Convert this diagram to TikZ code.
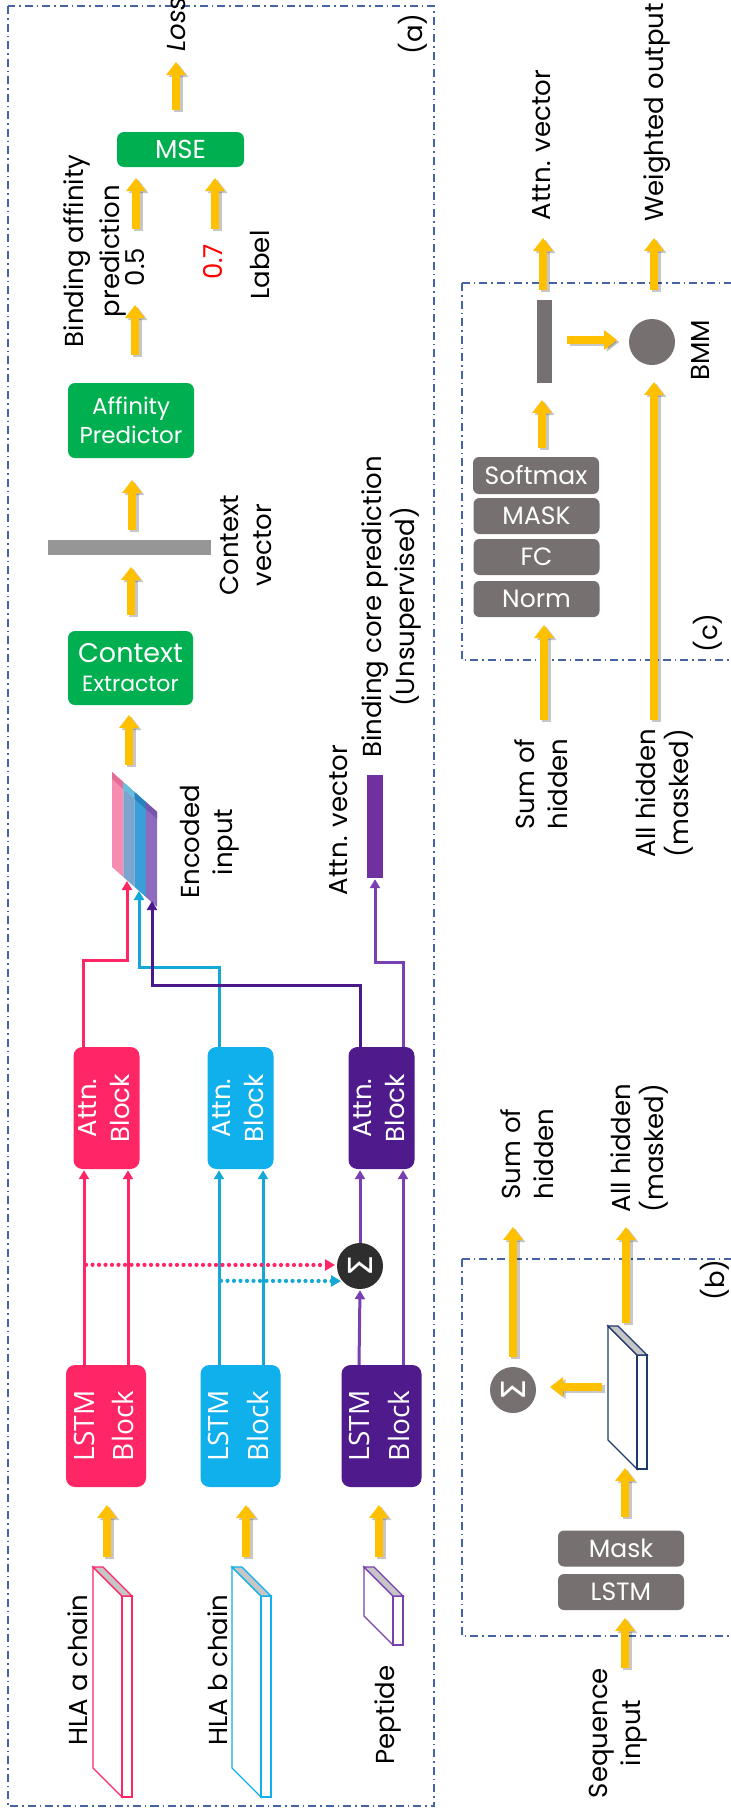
\documentclass[tikz,border=0pt]{standalone}
\usepackage{fontspec}
\usepackage{graphicx}
\setmainfont{Poppins}
\newfontfamily\opensans{Open Sans}
\newfontfamily\dejavu{DejaVu Sans}
\usetikzlibrary{arrows.meta,calc}
\definecolor{ay}{RGB}{255,192,0}
\definecolor{gboxc}{RGB}{0,176,80}
\definecolor{grayboxc}{RGB}{118,112,112}
\definecolor{pinkc}{RGB}{255,38,102}
\definecolor{cyanc}{RGB}{16,176,236}
\definecolor{cyanl}{RGB}{20,168,214}
\definecolor{purc}{RGB}{78,26,140}
\definecolor{purd}{RGB}{74,26,140}
\definecolor{purl}{RGB}{120,64,176}
\definecolor{framec}{RGB}{70,100,165}
\definecolor{barc}{RGB}{150,150,150}
\definecolor{navyc}{RGB}{31,56,110}
\definecolor{vecp}{RGB}{112,48,160}
\definecolor{encA}{RGB}{246,140,176}
\definecolor{encAt}{RGB}{226,110,150}
\definecolor{encB}{RGB}{125,164,204}
\definecolor{encBt}{RGB}{100,190,220}
\definecolor{encC}{RGB}{58,158,216}
\definecolor{encCt}{RGB}{40,130,190}
\definecolor{encD}{RGB}{142,107,191}
\definecolor{encDt}{RGB}{118,86,170}
\newcommand\lstmtxt{\rotatebox{90}{\opensans\fontsize{28}{40}\selectfont\begin{tabular}{@{}c@{}}LSTM\\Block\end{tabular}}}
\newcommand\attntxt{\rotatebox{90}{\fontsize{26}{33}\selectfont\begin{tabular}{@{}c@{}}Attn.\\Block\end{tabular}}}
\newcommand\sigtxt{\rotatebox{90}{\dejavu\fontsize{33}{33}\selectfont Σ}}
\newcommand\slabshape[4]{%
  \draw[#4, line width=1.3pt, fill=white] (#1,#2) -- ++(29,29) -- ++(0,#3) -- ++(-29,-29) -- cycle;
  \draw[#4, line width=1.3pt, fill=white] ($(#1,#2)+(29,29)$) rectangle ++(10,#3);
  \draw[#4, line width=1.3pt, fill=gray!45] (#1,#2) -- ++(10,0) -- ++(29,29) -- ++(-10,0) -- cycle;
}
\tikzset{
  lbl/.style={rotate=90, align=center, inner sep=0pt, font=\fontsize{26}{33}\selectfont},
  gbox/.style={fill=gboxc, rounded corners=7pt, text=white, inner sep=0pt, align=center},
  graybox/.style={fill=grayboxc, rounded corners=6pt, text=white, inner sep=0pt,
    font=\fontsize{25}{30}\selectfont, minimum width=126pt, minimum height=36pt},
  blk/.style={rounded corners=9pt, inner sep=0pt, minimum width=65pt, minimum height=122pt, text=white},
  sig/.style={circle, minimum size=46pt, inner sep=0pt, text=white},
  yarrow/.style={draw=ay, line width=8.5pt, -{Triangle[length=13pt,width=19pt]},
    preaction={draw=black, opacity=0.22, line width=8.5pt, -{Triangle[length=13pt,width=19pt]},
      transform canvas={shift={(2.5pt,-2pt)}}}},
  ln/.style={line width=3pt, -{Triangle[length=9pt,width=10pt]}, shorten >=1pt},
  dotl/.style={line width=4.2pt, dash pattern=on 0pt off 6.5pt, line cap=round,
    -{Triangle[length=10pt,width=11pt]}},
  frm/.style={draw=framec, line width=1.5pt, dash pattern=on 8pt off 4pt on 1.5pt off 4pt},
}
\begin{document}
\begin{tikzpicture}[x=1pt,y=-1pt]
\useasboundingbox (0,0) rectangle (731,1813);
\clip (0,0) rectangle (731,1813);
\fill[white] (0,0) rectangle (731,1813);

% frames
\draw[frm] (8,6) rectangle (434,1806);
\draw[frm] (462,283) rectangle (745,660);
\draw[frm] (462,1259) rectangle (745,1636);

% ---------------- panel (a)
\node[gbox, minimum width=127pt, minimum height=35pt, font=\fontsize{26}{30}\selectfont] (mse) at (180.5,149.5) {MSE};
\node[gbox, minimum width=126pt, minimum height=75pt, font=\fontsize{23}{29}\selectfont] (aff) at (131,420.5) {Affinity\\Predictor};
\node[gbox, minimum width=125pt, minimum height=74pt, font=\fontsize{22}{29}\selectfont] (ctx) at (130.5,668) {{\fontsize{27}{29}\selectfont Context}\\Extractor};
\node[fill=barc, minimum width=163pt, minimum height=15pt, inner sep=0pt] (cbar) at (129.5,547.5) {};

\node[lbl, font=\itshape\fontsize{26}{33}\selectfont] (loss) at (177,24) {Loss};
\node[lbl, font=\fontsize{26}{36}\selectfont] (bap) at (95,251) {Binding affinity\\prediction};
\node[lbl] (p05) at (135,267) {0.5};
\node[lbl, text=red] (p07) at (213,262) {0.7};
\node[lbl] (lab) at (260,265) {Label};
\node[lbl] (pa) at (413,34) {(a)};
\node[lbl] (cvl) at (246,545) {Context\\vector};
\node[lbl] (encl) at (210,842) {Encoded\\input};
\node[lbl] (avl) at (339,820) {Attn. vector};
\node[lbl] (bcp) at (391,607) {Binding core prediction\\(Unsupervised)};
\node[lbl] (hlaa) at (78,1670) {HLA a chain};
\node[lbl] (hlab) at (218,1670) {HLA b chain};
\node[lbl] (pep) at (388,1715) {Peptide};

% encoded input stack
\coordinate (enc) at (135,835);
\foreach \i/\c/\t in {0/encA/encAt,1/encB/encBt,2/encC/encCt,3/encD/encDt}{
  \fill[\c] ({112+11.3*\i},{772+10*\i}) -- ++(11.3,10) -- ++(0,95) -- ++(-11.3,-10) -- cycle;
  \fill[\t] ({112+11.3*\i},{772+10*\i}) -- ++(11.3,10) -- ++(0,7) -- ++(-11.3,-10) -- cycle;
}

% attention vector bar
\node[fill=vecp, minimum width=16pt, minimum height=103pt, inner sep=0pt] (avec) at (375,826.5) {};

% blocks
\node[blk, fill=pinkc] (attnA) at (106.5,1108) {\attntxt};
\node[blk, fill=cyanc] (attnB) at (240.5,1108) {\attntxt};
\node[blk, fill=purc] (attnP) at (381.5,1108) {\attntxt};
\node[blk, fill=pinkc] (lstmA) at (106,1426) {\lstmtxt};
\node[blk, fill=cyanc] (lstmB) at (240.5,1426) {\lstmtxt};
\node[blk, fill=purc] (lstmP) at (381.5,1426) {\lstmtxt};
\node[sig, fill=black!82] (sigA) at (360,1266) {\sigtxt};

% input slabs
\slabshape{93}{1567}{201}{pinkc}
\slabshape{232}{1567}{201}{cyanc}
\slabshape{364}{1567}{49}{purl}
\coordinate (slabA) at (93,1567);
\coordinate (slabB) at (232,1567);
\coordinate (slabP) at (364,1567);

% coloured connectors
\draw[ln, pinkc] ($(lstmA.north)+(-22,0)$) -- ($(attnA.south)+(-22.5,0)$);
\draw[ln, pinkc] ($(lstmA.north)+(22,0)$) -- ($(attnA.south)+(21.5,0)$);
\draw[ln, cyanl] ($(lstmB.north)+(-21.5,0)$) -- ($(attnB.south)+(-21.5,0)$);
\draw[ln, cyanl] ($(lstmB.north)+(22.5,0)$) -- ($(attnB.south)+(22.5,0)$);
\draw[ln, purl] ($(lstmP.north)+(-22.5,0)$) -- (sigA.south);
\draw[ln, purl] (sigA.north) -- ($(attnP.south)+(-21.5,0)$);
\draw[ln, purl] ($(lstmP.north)+(21.5,0)$) -- ($(attnP.south)+(21.5,0)$);
\draw[dotl, pinkc] ($(lstmA.north)+(-20,-100)$) -- ($(sigA.center)+(-25,-1)$);
\draw[dotl, cyanl] ($(lstmB.north)+(-19.5,-84)$) -- ($(sigA.center)+(-19,15)$);
\draw[ln, pinkc] ($(attnA.north)+(-23.5,0)$) |- ($(enc)+(-8,125)$) -- ($(enc)+(-8,45)$);
\draw[ln, cyanl] ($(attnB.north)+(-21.5,0)$) |- ($(enc)+(4,132)$) -- ($(enc)+(4,55)$);
\draw[ln, purd] ($(attnP.north)+(-21.5,0)$) |- ($(enc)+(17,150)$) -- ($(enc)+(17,65)$);
\draw[ln, purl] ($(attnP.north)+(21.5,0)$) |- ($(avec.south)+(0,84)$) -- (avec.south);

% ---------------- panel (c)
\node[graybox, minimum height=37pt] (soft) at (536,475.5) {Softmax};
\node[graybox] (mask) at (536.5,516) {MASK};
\node[graybox] (fc) at (536.5,557) {FC};
\node[graybox] (norm) at (536.5,599) {Norm};
\node[fill=grayboxc, minimum width=15pt, minimum height=83pt, inner sep=0pt] (abar) at (544.5,341.5) {};
\node[sig, fill=grayboxc] (bmm) at (652,342) {};
\node[lbl] (bmml) at (700,350) {BMM};
\node[lbl] (pc) at (708,633) {(c)};
\node[lbl] (avc) at (542,145) {Attn. vector};
\node[lbl, anchor=west] (wout) at (657,222) {Weighted output};
\node[lbl] (sumc) at (541,784) {Sum of\\hidden};
\node[lbl] (allc) at (665,793) {All hidden\\(masked)};

% ---------------- panel (b)
\node[graybox] (maskb) at (621,1548.5) {Mask};
\node[graybox] (lstmb) at (621,1592) {LSTM};
\node[sig, fill=grayboxc] (sigB) at (513,1390) {\sigtxt};
\slabshape{608}{1326}{114}{navyc}
\coordinate (slabb) at (608,1326);
\node[lbl] (sumb) at (527,1154) {Sum of\\hidden};
\node[lbl] (allb) at (640,1148) {All hidden\\(masked)};
\node[lbl] (pb) at (715,1280) {(b)};
\node[lbl] (seq) at (618,1733) {Sequence\\input};

% ---------------- yellow arrows
\draw[yarrow] ($(mse.center)+(-4.5,-39.5)$) -- ($(loss.center)+(-1,38)$);
\draw[yarrow] ($(p05.center)+(1,-38)$) -- ($(mse.center)+(-44.5,28.5)$);
\draw[yarrow] ($(p07.center)+(2,-33)$) -- ($(mse.center)+(34.5,28.5)$);
\draw[yarrow] ($(aff.center)+(4,-65.5)$) -- ($(p05.center)+(0,38)$);
\draw[yarrow] ($(cbar.center)+(2.5,-17.5)$) -- ($(aff.center)+(1,59.5)$);
\draw[yarrow] ($(ctx.center)+(0.5,-53)$) -- ($(cbar.center)+(1.5,19.5)$);
\draw[yarrow] ($(enc)+(-6,-70)$) -- ($(ctx.center)+(-1.5,47)$);
\draw[yarrow] ($(slabA)+(14,-10)$) -- ($(lstmA.center)+(1,79)$);
\draw[yarrow] ($(slabB)+(14,-10)$) -- ($(lstmB.center)+(5.5,79)$);
\draw[yarrow] ($(slabP)+(15,-10)$) -- ($(lstmP.center)+(-2.5,79)$);
\draw[yarrow] ($(sumc.center)+(3,-64)$) -- ($(norm.center)+(7.5,26)$);
\draw[yarrow] ($(soft.center)+(6,-27.5)$) -- ($(abar.center)+(-2.5,58.5)$);
\draw[yarrow] ($(abar.center)+(22.5,-1.5)$) -- ($(bmm.center)+(-35,-2)$);
\draw[yarrow] ($(allc.center)+(-11,-73)$) -- ($(bmm.center)+(2,40)$);
\draw[yarrow] ($(abar.center)+(-1.5,-51.5)$) -- ($(avc.center)+(1,93)$);
\draw[yarrow] ($(bmm.center)+(2,-52)$) -- ($(wout.west)+(-3,16)$);
\draw[yarrow] ($(sigB.center)+(0,-33)$) -- ($(sumb.center)+(-14,73)$);
\draw[yarrow] ($(slabb)+(18,-3)$) -- ($(allb.center)+(-14,79)$);
\draw[yarrow] ($(slabb)+(-6,61)$) -- ($(sigB.center)+(37,-3)$);
\draw[yarrow] ($(maskb.center)+(4,-31.5)$) -- ($(slabb)+(17,142)$);
\draw[yarrow] ($(seq.center)+(7,-65)$) -- ($(lstmb.center)+(4,26)$);
\end{tikzpicture}
\end{document}
